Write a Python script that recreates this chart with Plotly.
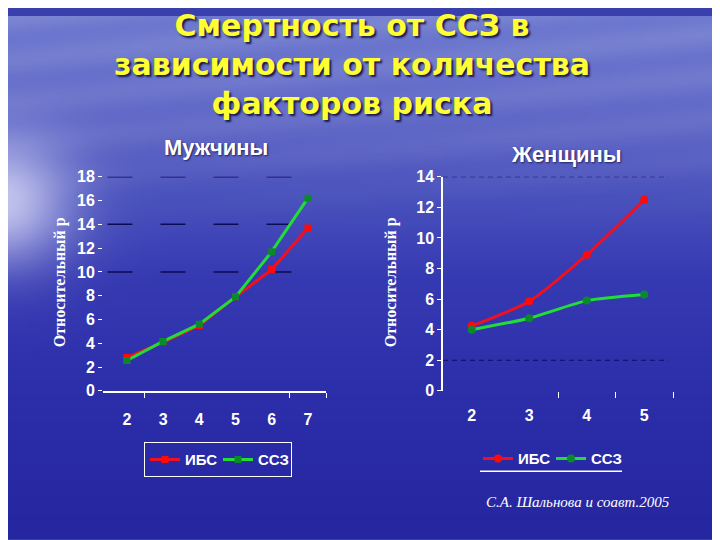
import math, zlib, struct, base64
import plotly.graph_objects as go

# ---------------- data ----------------
men_x = [2, 3, 4, 5, 6, 7]
men_ibs = [2.8, 4.1, 5.5, 7.9, 10.2, 13.7]
men_ssz = [2.55, 4.15, 5.6, 7.9, 11.7, 16.2]

women_x = [2, 3, 4, 5]
women_ibs = [4.25, 5.85, 8.9, 12.5]
women_ssz = [4.0, 4.75, 5.9, 6.3]

series_names = ["ИБС", "ССЗ"]
men_yticks = [0, 2, 4, 6, 8, 10, 12, 14, 16, 18]
women_yticks = [0, 2, 4, 6, 8, 10, 12, 14]
men_grid = [10, 14, 18]
women_grid = [2, 14]

title_lines = ["Смертность от ССЗ в", "зависимости от количества", "факторов риска"]
men_title = "Мужчины"
women_title = "Женщины"
axis_title = "Относительный р"
source = "С.А. Шальнова и соавт.2005"

# page offset of the plot inside the window (browser body margin)
OFF = 8
def fx(p):
    return (p - OFF) / 720
def fy(p):
    return 1 - (p - OFF) / 540

# ---------------- background image (decorative gradient) ----------------
W, H = 180, 135
stops = [(0, (110, 122, 208)), (60, (104, 114, 204)), (130, (94, 102, 198)),
         (200, (72, 80, 188)), (280, (54, 58, 178)), (400, (44, 46, 170)), (540, (38, 38, 160))]

def base_col(py):
    for (y0, c0), (y1, c1) in zip(stops[:-1], stops[1:]):
        if py <= y1:
            t = (py - y0) / (y1 - y0)
            return [c0[i] + (c1[i] - c0[i]) * t for i in range(3)]
    return list(stops[-1][1])

rows = []
for j in range(H):
    py = (j + 0.5) * 540 / H + OFF
    row = bytearray([0])
    bc = base_col(py)
    for i in range(W):
        px = (i + 0.5) * 720 / W + OFF
        c = list(bc)
        if py < 230:
            k = 0.12 * (0.5 + 0.5 * math.sin(py / 7.0 + px / 70.0)) * (1 - py / 230)
            c = [c[n] + (235 - c[n]) * k for n in range(3)]
        g = 0.8 * math.exp(-(px / 70.0) ** 2 - ((py - 200) / 65.0) ** 2)
        glow = (225, 225, 250)
        c = [c[n] + (glow[n] - c[n]) * g for n in range(3)]
        row += bytes(max(0, min(255, int(v))) for v in c)
    rows.append(bytes(row))

def chunk(tag, data):
    return struct.pack(">I", len(data)) + tag + data + struct.pack(">I", zlib.crc32(tag + data) & 0xffffffff)

png = b"\x89PNG\r\n\x1a\n" + chunk(b"IHDR", struct.pack(">IIBBBBB", W, H, 8, 2, 0, 0, 0)) \
      + chunk(b"IDAT", zlib.compress(b"".join(rows), 9)) + chunk(b"IEND", b"")
bg_uri = "data:image/png;base64," + base64.b64encode(png).decode()

# ---------------- figure ----------------
RED = "#f01020"
RED_M = "#ff0a0a"
GREEN = "#22dd33"
GREEN_M = "#0b8a2c"

fig = go.Figure()
fig.add_trace(go.Scatter(x=men_x, y=men_ibs, name=series_names[0], mode="lines+markers",
                         line=dict(color=RED, width=3), marker=dict(symbol="square", size=7, color=RED_M),
                         xaxis="x", yaxis="y", legend="legend"))
fig.add_trace(go.Scatter(x=men_x, y=men_ssz, name=series_names[1], mode="lines+markers",
                         line=dict(color=GREEN, width=3), marker=dict(symbol="square", size=7, color=GREEN_M),
                         xaxis="x", yaxis="y", legend="legend"))
fig.add_trace(go.Scatter(x=women_x, y=women_ibs, name=series_names[0], mode="lines+markers",
                         line=dict(color=RED, width=3, shape="spline", smoothing=0.6),
                         marker=dict(symbol="circle", size=8, color=RED_M),
                         xaxis="x2", yaxis="y2", legend="legend2"))
fig.add_trace(go.Scatter(x=women_x, y=women_ssz, name=series_names[1], mode="lines+markers",
                         line=dict(color=GREEN, width=3, shape="spline", smoothing=0.6),
                         marker=dict(symbol="circle", size=8, color=GREEN_M),
                         xaxis="x2", yaxis="y2", legend="legend2"))

tickfont = dict(family="Liberation Sans, Arial", size=16, color="white", weight="bold")
ydom = [fy(395), fy(174)]

# gridlines
for v in men_grid:
    fig.add_shape(type="line", xref="x domain", yref="y", x0=0.02, x1=0.87, y0=v, y1=v,
                  line=dict(color="#0c0c55", width=1.5, dash="25px,28px"), layer="below")
for v in women_grid:
    fig.add_shape(type="line", xref="x2 domain", yref="y2", x0=0.0, x1=0.98, y0=v, y1=v,
                  line=dict(color="#0c0c55", width=1.2, dash="5px,4px"), layer="below")

# right legend underline
fig.add_shape(type="line", xref="paper", yref="paper", x0=fx(480), x1=fx(622),
              y0=fy(478), y1=fy(478), line=dict(color="white", width=1.5))

legend_font = dict(family="Liberation Sans, Arial", size=15, color="white", weight="bold")
fig.update_layout(
    width=720, height=540,
    margin=dict(l=0, r=0, t=0, b=0),
    paper_bgcolor="#3a3fae",
    plot_bgcolor="rgba(0,0,0,0)",
    images=[dict(source=bg_uri, xref="paper", yref="paper", x=0, y=1, sizex=1, sizey=1,
                 xanchor="left", yanchor="top", sizing="stretch", layer="below")],
    xaxis=dict(domain=[fx(103), fx(326)], range=[1.34, 7.5], anchor="y",
               tickvals=men_x, ticks="", showgrid=False, zeroline=False,
               showline=True, linecolor="white", linewidth=1.5,
               tickfont=tickfont, ticklabelstandoff=13,
               minor=dict(tickvals=[2.5, 6.5, 7.5], ticks="outside", ticklen=5, tickcolor="white", showgrid=False)),
    yaxis=dict(domain=ydom, range=[0, 18], anchor="x", tickvals=men_yticks,
               showgrid=False, zeroline=False, showline=False,
               ticks="outside", ticklen=4, tickcolor="white", tickfont=tickfont),
    xaxis2=dict(domain=[fx(443), fx(673)], range=[1.5, 5.5], anchor="y2",
                tickvals=women_x, ticks="", showgrid=False, zeroline=False, showline=False,
                tickfont=tickfont, ticklabelstandoff=13,
                minor=dict(tickvals=[3.5, 4.5, 5.5], ticks="outside", ticklen=6, tickcolor="white", showgrid=False)),
    yaxis2=dict(domain=ydom, range=[0, 14], anchor="x2", tickvals=women_yticks,
                showgrid=False, zeroline=False, showline=True, linecolor="white", linewidth=1.5,
                ticks="outside", ticklen=4, tickcolor="white", tickfont=tickfont),
    legend=dict(x=fx(144), y=fy(448), xanchor="left", yanchor="top", orientation="h",
                bgcolor="rgba(0,0,0,0)", bordercolor="white", borderwidth=1,
                font=legend_font, itemwidth=30, tracegroupgap=0,
                entrywidth=28, entrywidthmode="pixels"),
    legend2=dict(x=fx(478), y=fy(448), xanchor="left", yanchor="top", orientation="h",
                 bgcolor="rgba(0,0,0,0)", borderwidth=0,
                 font=legend_font, itemwidth=30, tracegroupgap=0,
                 entrywidth=28, entrywidthmode="pixels"),
)

title_font = dict(family="DejaVu Sans, Liberation Sans, Arial", size=30, color="#ffff33", weight="bold",
                  shadow="2px 2px 2px #1a1a50")
fig.add_annotation(text="<br>".join(title_lines), xref="paper", yref="paper", x=fx(352), y=fy(58),
                   xanchor="center", yanchor="middle", align="center", showarrow=False, font=title_font)

sub_font = dict(family="Liberation Sans, Arial", size=22, color="white", weight="bold",
                shadow="1px 1px 2px #202060")
fig.add_annotation(text=men_title, xref="paper", yref="paper", x=fx(216), y=fy(144),
                   xanchor="center", yanchor="middle", showarrow=False, font=sub_font)
fig.add_annotation(text=women_title, xref="paper", yref="paper", x=fx(566), y=fy(151),
                   xanchor="center", yanchor="middle", showarrow=False, font=sub_font)

ax_font = dict(family="Liberation Serif, Times New Roman", size=16, color="white", weight="bold")
for xpix in [60, 391]:
    fig.add_annotation(text=axis_title, xref="paper", yref="paper", x=fx(xpix), y=fy(283),
                       xanchor="center", yanchor="middle", textangle=-90, showarrow=False, font=ax_font)

fig.add_annotation(text="<i>" + source + "</i>", xref="paper", yref="paper", x=fx(578), y=fy(510),
                   xanchor="center", yanchor="middle", showarrow=False,
                   font=dict(family="Liberation Serif, Times New Roman", size=15, color="white"))

fig.write_html("out.html")
